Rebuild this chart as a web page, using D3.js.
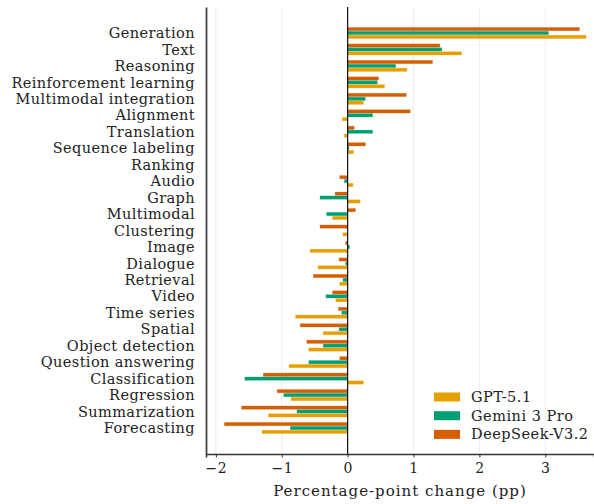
<!DOCTYPE html>
<html>
<head>
<meta charset="utf-8">
<script src="https://cdn.jsdelivr.net/npm/d3@7"></script>
<style>
  body { margin: 0; background: #fff; }
  text { font-family: "DejaVu Serif", serif; fill: #222; }
</style>
</head>
<body>
<div id="viz"></div>
<script>
const categories = [
  "Generation", "Text", "Reasoning", "Reinforcement learning", "Multimodal integration",
  "Alignment", "Translation", "Sequence labeling", "Ranking", "Audio", "Graph",
  "Multimodal", "Clustering", "Image", "Dialogue", "Retrieval", "Video", "Time series",
  "Spatial", "Object detection", "Question answering", "Classification", "Regression",
  "Summarization", "Forecasting"
];

const gpt = [3.62, 1.73, 0.90, 0.56, 0.24, -0.08, -0.05, 0.09, 0, 0.08, 0.19, -0.23, -0.07,
  -0.57, -0.45, -0.12, -0.18, -0.79, -0.37, -0.59, -0.89, 0.24, -0.86, -1.20, -1.30];
const gemini = [3.05, 1.43, 0.73, 0.45, 0.27, 0.38, 0.38, 0.02, 0, -0.05, -0.42, -0.32, 0,
  0.03, -0.03, -0.07, -0.33, -0.09, -0.13, -0.37, -0.59, -1.56, -0.97, -0.77, -0.87];
const deepseek = [3.52, 1.40, 1.29, 0.47, 0.89, 0.95, 0.10, 0.27, 0, -0.12, -0.19, 0.12, -0.42,
  -0.03, -0.13, -0.52, -0.23, -0.14, -0.72, -0.62, -0.12, -1.28, -1.07, -1.61, -1.87];

const seriesNames = ["GPT-5.1", "Gemini 3 Pro", "DeepSeek-V3.2"];
const xTicks = [-2, -1, 0, 1, 2, 3];

const COLORS = {
  "GPT-5.1": "#E69F00",
  "Gemini 3 Pro": "#009E73",
  "DeepSeek-V3.2": "#D55E00"
};

const width = 594, height = 504;
const margin = { top: 7, right: 0, bottom: 50, left: 206 };

const svg = d3.select("#viz").append("svg")
  .attr("width", width)
  .attr("height", height);

const x = d3.scaleLinear()
  .domain([-2.15, 3.74])
  .range([margin.left, width - margin.right]);

const y = d3.scalePoint()
  .domain(categories)
  .range([margin.top, height - margin.bottom])
  .padding(1.58);

// grid
svg.append("g")
  .selectAll("line")
  .data(xTicks)
  .join("line")
  .attr("x1", d => x(d)).attr("x2", d => x(d))
  .attr("y1", margin.top).attr("y2", height - margin.bottom)
  .attr("stroke", "#ebebeb")
  .attr("stroke-width", 1);

// bars: DeepSeek on top, Gemini middle, GPT bottom
const barH = 3.3, step = 3.9;
const series = [
  { name: "DeepSeek-V3.2", values: deepseek, off: -1 },
  { name: "Gemini 3 Pro", values: gemini, off: 0 },
  { name: "GPT-5.1", values: gpt, off: 1 }
];

series.forEach(s => {
  svg.append("g")
    .selectAll("rect")
    .data(categories.map((c, i) => ({ c, v: s.values[i] })))
    .join("rect")
    .attr("x", d => x(Math.min(0, d.v)))
    .attr("width", d => Math.abs(x(d.v) - x(0)))
    .attr("y", d => y(d.c) + s.off * step - barH / 2)
    .attr("height", barH)
    .attr("fill", COLORS[s.name])
    .attr("stroke", COLORS[s.name])
    .attr("stroke-opacity", 0.35)
    .attr("stroke-width", 0.6);
});

// zero line
svg.append("line")
  .attr("x1", x(0)).attr("x2", x(0))
  .attr("y1", margin.top).attr("y2", height - margin.bottom)
  .attr("stroke", "#111")
  .attr("stroke-width", 1.2);

// x axis
const xAxis = svg.append("g")
  .attr("transform", `translate(0,${height - margin.bottom})`)
  .call(d3.axisBottom(x).tickValues(xTicks).tickSize(3.5).tickPadding(6)
    .tickFormat(d => d < 0 ? "\u2212" + Math.abs(d) : d));
xAxis.select(".domain").attr("stroke", "#333").attr("stroke-width", 1.5);
xAxis.selectAll(".tick line").attr("stroke", "#333");
xAxis.selectAll("text").attr("font-size", 14).attr("letter-spacing", 0.5).attr("fill", "#222");

// y axis
const yAxis = svg.append("g")
  .attr("transform", `translate(${margin.left},0)`)
  .call(d3.axisLeft(y).tickSize(0).tickPadding(11));
yAxis.select(".domain").attr("stroke", "#444").attr("stroke-width", 1.8);
yAxis.selectAll("text").attr("font-size", 14.5).attr("letter-spacing", 0.4).attr("fill", "#222");

// axis label
svg.append("text")
  .attr("x", (margin.left + width) / 2)
  .attr("y", 496)
  .attr("text-anchor", "middle")
  .attr("font-size", 15)
  .attr("letter-spacing", 1)
  .text("Percentage-point change (pp)");

// legend
const legend = svg.append("g").attr("transform", "translate(434,397)");
seriesNames.forEach((n, i) => {
  const g = legend.append("g").attr("transform", `translate(0,${i * 18.7})`);
  g.append("rect")
    .attr("x", 0).attr("y", -4.5)
    .attr("width", 26).attr("height", 9)
    .attr("fill", COLORS[n]);
  g.append("text")
    .attr("x", 37).attr("y", 0)
    .attr("dy", "0.35em")
    .attr("font-size", 14.5)
    .attr("letter-spacing", 0.5)
    .text(n);
});
</script>
</body>
</html>
